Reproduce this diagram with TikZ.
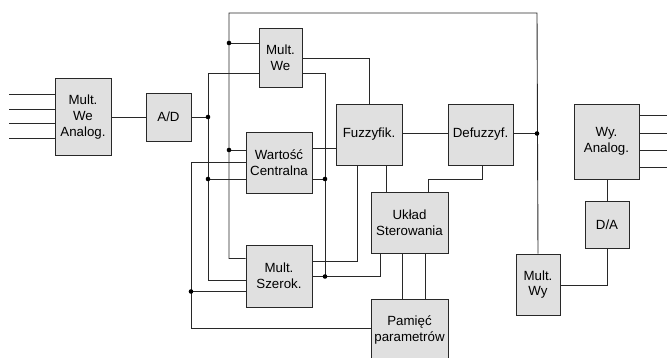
\documentclass[tikz,border=0pt]{standalone}
\usepackage{fontspec}
\setmainfont{Liberation Sans}
\definecolor{boxfill}{RGB}{224,224,224}
\definecolor{linecol}{RGB}{40,40,40}
\begin{document}
\begin{tikzpicture}[x=1pt,y=-1pt,
  blk/.style={draw=linecol,fill=boxfill,line width=0.9pt,align=center,inner sep=0pt,
    font=\fontsize{13.3}{15.6}\selectfont},
  wire/.style={draw=linecol,line width=0.9pt},
  dot/.style={circle,fill=black,inner sep=0pt,minimum size=4.6pt}]
\useasboundingbox (0,0) rectangle (667,358);
\clip (0,0) rectangle (667,358);
% blocks
\node[blk,minimum width=56pt,minimum height=77pt] (MWA) at (83,117) {Mult.\\We\\Analog.};
\node[blk,minimum width=45pt,minimum height=48pt] (AD) at (168.5,117) {A/D};
\node[blk,minimum width=43pt,minimum height=59pt] (MWe) at (280.5,57.5) {Mult.\\We};
\node[blk,minimum width=66pt,minimum height=61pt] (WC) at (279,162.5) {Wartość\\Centralna};
\node[blk,minimum width=66pt,minimum height=62pt] (MS) at (279,276) {Mult.\\Szerok.};
\node[blk,minimum width=66pt,minimum height=61pt] (FZ) at (369,134.5) {Fuzzyfik.};
\node[blk,minimum width=65pt,minimum height=61pt] (DF) at (480.5,134.5) {Defuzzyf.};
\node[blk,minimum width=77pt,minimum height=61pt] (UK) at (409.5,222.5) {Układ\\Sterowania};
\node[blk,minimum width=77pt,minimum height=62pt] (PM) at (409.5,330) {Pamięć\\parametrów};
\node[blk,minimum width=65pt,minimum height=75pt] (WA) at (606.5,141.5) {Wy.\\Analog.};
\node[blk,minimum width=44pt,minimum height=47pt] (DA) at (607,224.5) {D/A};
\node[blk,minimum width=44pt,minimum height=61pt] (MWy) at (538,284.5) {Mult.\\Wy};
% helper coordinates
\coordinate (in1) at (9,94); \coordinate (in2) at (9,109);
\coordinate (in3) at (9,123.5); \coordinate (in4) at (9,138.5);
\coordinate (out1) at (667,115); \coordinate (out2) at (667,133);
\coordinate (out3) at (667,150); \coordinate (out4) at (667,167.5);
\coordinate (j208a) at (208,117);
\coordinate (j208b) at (208,179);
\coordinate (t208) at (208,73);
\coordinate (b208) at (208,280);
\coordinate (t229) at (229,13);
\coordinate (j229a) at (229,43);
\coordinate (j229b) at (229,150);
\coordinate (b229) at (229,258.5);
\coordinate (t191) at (191,162.5);
\coordinate (j191) at (191,291.5);
\coordinate (b191) at (191,328);
\coordinate (t325) at (325,73);
\coordinate (j325a) at (325,179);
\coordinate (j325b) at (325,276.5);
\coordinate (r380) at (380,276.5);
\coordinate (tR) at (537,13);
\coordinate (jR) at (537,133.5);
\coordinate (y58) at (0,58);
\coordinate (y148) at (0,148);
\coordinate (y262) at (0,261.5);
\coordinate (x358) at (357.5,0);
\coordinate (x386) at (386,0);
\coordinate (k482) at (482,179);
\coordinate (k428) at (428,179);
\coordinate (x402) at (402.5,0);
\coordinate (x425) at (425,0);
\coordinate (k607) at (607,285);
% inputs / outputs
\foreach \p in {in1,in2,in3,in4} \draw[wire] (\p) -- (MWA.west |- \p);
\foreach \p in {out1,out2,out3,out4} \draw[wire] (WA.east |- \p) -- (\p);
% left part
\draw[wire] (MWA.east) -- (AD.west);
\draw[wire] (AD.east) -- (j208a);
\draw[wire] (MWe.west |- t208) -- (t208) -- (b208) -- (MS.west |- b208);
\draw[wire] (j208b) -- (WC.west |- j208b);
\draw[wire] (MWy.north) -- (tR) -- (t229) -- (b229) -- (MS.west |- b229);
\draw[wire] (j229a) -- (MWe.west |- j229a);
\draw[wire] (j229b) -- (WC.west |- j229b);
\draw[wire] (WC.west |- t191) -- (t191) -- (b191) -- (PM.west |- b191);
\draw[wire] (j191) -- (MS.west |- j191);
% bus x=325
\draw[wire] (MWe.east |- t325) -- (t325) -- (j325b) -- (r380) -- (UK.south -| r380);
\draw[wire] (WC.east |- j325a) -- (j325a);
\draw[wire] (MS.east |- j325b) -- (j325b);
% fuzzy part
\draw[wire] (MWe.east |- y58) -| (FZ.north);
\draw[wire] (WC.east |- y148) -- (FZ.west |- y148);
\draw[wire] (FZ.south -| x358) |- (MS.east |- y262);
\draw[wire] (FZ.south -| x386) -- (UK.north -| x386);
\draw[wire] (FZ.east |- jR) -- (DF.west |- jR);
\draw[wire] (DF.east |- jR) -- (jR);
\draw[wire] (DF.south -| k482) -- (k482) -- (k428) -- (UK.north -| k428);
\draw[wire] (UK.south -| x402) -- (PM.north -| x402);
\draw[wire] (UK.south -| x425) -- (PM.north -| x425);
% output part
\draw[wire] (WA.south -| DA.north) -- (DA.north);
\draw[wire] (DA.south) -- (k607) -- (MWy.east |- k607);
% dots
\foreach \p in {j208a,j208b,j229a,j229b,j191,j325a,j325b,jR} \node[dot] at (\p) {};
\end{tikzpicture}
\end{document}
